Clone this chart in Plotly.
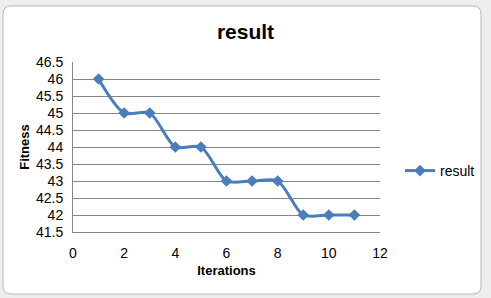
import plotly.graph_objects as go

iterations = [1, 2, 3, 4, 5, 6, 7, 8, 9, 10, 11]
fitness = [46, 45, 45, 44, 44, 43, 43, 43, 42, 42, 42]
series_name = "result"

W, H = 491, 298
L, R, T, B = 73, 380, 62, 232  # plot area pixel bounds

def px(x):
    return (x - L) / (R - L)

def py(y):
    return (B - y) / (B - T)

fig = go.Figure()
fig.add_trace(go.Scatter(
    x=iterations, y=fitness, name=series_name,
    mode="lines+markers",
    line=dict(color="#4a7ebb", width=3, shape="spline", smoothing=0.8),
    marker=dict(symbol="diamond", size=9, color="#4a7ebb"),
))

# rounded white chart frame
x0, y0, x1, y1, r = 3, 6, 481, 294, 8
path = (f"M {px(x0+r)},{py(y0)} L {px(x1-r)},{py(y0)} "
        f"Q {px(x1)},{py(y0)} {px(x1)},{py(y0+r)} L {px(x1)},{py(y1-r)} "
        f"Q {px(x1)},{py(y1)} {px(x1-r)},{py(y1)} L {px(x0+r)},{py(y1)} "
        f"Q {px(x0)},{py(y1)} {px(x0)},{py(y1-r)} L {px(x0)},{py(y0+r)} "
        f"Q {px(x0)},{py(y0)} {px(x0+r)},{py(y0)} Z")

fig.update_layout(
    width=W, height=H,
    margin=dict(l=L, r=W - R, t=T, b=H - B, pad=0),
    paper_bgcolor="#eeeeee",
    plot_bgcolor="rgba(0,0,0,0)",
    font=dict(family="Liberation Sans, Arial, sans-serif", size=14, color="#000000"),
    title=dict(text="<b>result</b>", x=0.5, xref="container", xanchor="center",
               y=1 - 32 / H, yref="container", yanchor="middle",
               font=dict(size=21, color="#000000")),
    shapes=[dict(type="path", path=path, xref="paper", yref="paper",
                 fillcolor="#ffffff", line=dict(color="#b8b8b8", width=1), layer="below")],
    xaxis=dict(range=[0, 12], tickvals=[0, 2, 4, 6, 8, 10, 12],
               showgrid=False, zeroline=False, showline=True, linecolor="#868686", linewidth=1,
               ticks="", ticklabelstandoff=8,
               title=dict(text="<b>Iterations</b>", font=dict(size=13), standoff=6)),
    yaxis=dict(range=[41.5, 46.5], dtick=0.5, tick0=41.5,
               tickformat="~g",
               showgrid=True, gridcolor="#868686", gridwidth=1, zeroline=False,
               showline=True, linecolor="#868686", linewidth=1,
               ticks="", ticklabelstandoff=6,
               title=dict(text="<b>Fitness</b>", font=dict(size=13), standoff=3)),
    legend=dict(x=400 / W, xref="container", xanchor="left",
                y=1 - 171 / H, yref="container", yanchor="middle",
                bgcolor="rgba(0,0,0,0)", font=dict(size=14)),
    showlegend=True,
)

fig.write_html("out.html")
